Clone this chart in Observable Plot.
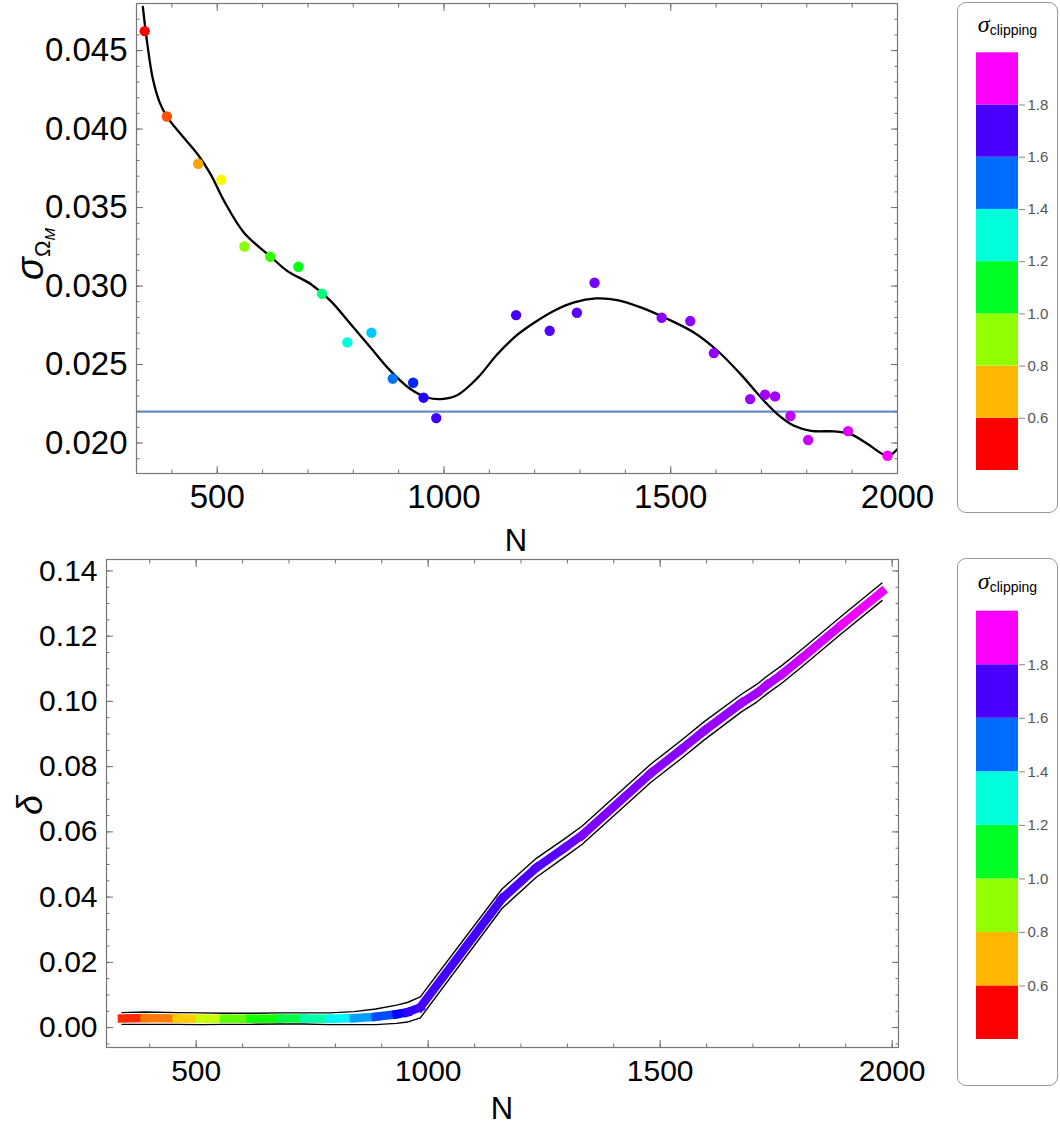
<!DOCTYPE html>
<html><head><meta charset="utf-8">
<script src="https://cdn.jsdelivr.net/npm/d3@7"></script>
<script src="https://cdn.jsdelivr.net/npm/@observablehq/plot@0.6"></script>
<style>
html,body{margin:0;padding:0;background:#fff;}
#page{position:relative;width:1060px;height:1127px;overflow:hidden;font-family:"Liberation Sans",Arial,sans-serif;}
.legbox{position:absolute;border:1px solid #9a9a9a;border-radius:9px;box-sizing:border-box;background:#fff;}
.legtitle{position:absolute;left:0;width:100%;text-align:center;color:#000;}
.legtitle i{font-size:24px;font-family:"Liberation Serif",serif;}
.legtitle sub{font-size:14px;vertical-align:-3px;}
</style></head><body><div id="page"></div>
<script>
// ---------- data ----------
const nValues = [340,389,458,509,560,617,679,731,787,840,887,932,955,983,1159,1233,1293,1332,1480,1543,1595,1675,1708,1730,1764,1803,1891,1978];
const sigmaOmegaM = [0.04624,0.0408,0.03779,0.03677,0.03252,0.03187,0.03123,0.02951,0.02641,0.02703,0.0241,0.02384,0.02289,0.02159,0.02815,0.02715,0.0283,0.03021,0.02798,0.02777,0.02573,0.0228,0.02308,0.02297,0.02172,0.02019,0.02076,0.01919];
const sigmaClipping = [0.5,0.59,0.68,0.77,0.91,1.0,1.08,1.19,1.3,1.4,1.49,1.58,1.66,1.69,1.7,1.71,1.72,1.75,1.77,1.77,1.78,1.79,1.8,1.8,1.83,1.84,1.86,1.9];
const fitN = [336,346,358,373,389,419,456,485,515,559,618,654,706,750,794,838,882,926,963,993,1029,1074,1118,1162,1198,1243,1287,1335,1382,1434,1493,1551,1603,1654,1699,1735,1772,1809,1860,1897,1934,1978,2000];
const fitSigma = [0.04779,0.04540,0.04320,0.04170,0.0408,0.0397,0.03843,0.03715,0.03543,0.0334,0.03187,0.03097,0.03013,0.02906,0.02758,0.02609,0.0246,0.02344,0.0229,0.0228,0.02305,0.02415,0.02567,0.0269,0.02765,0.02843,0.02896,0.02921,0.02911,0.02864,0.0279,0.02704,0.02588,0.02439,0.0229,0.02185,0.0211,0.02078,0.02074,0.02057,0.01994,0.01919,0.01962];
const referenceSigma = 0.022;
const delta = [0.0028,0.0029,0.0028,0.0027,0.0027,0.0027,0.0028,0.0028,0.0027,0.0029,0.0033,0.0041,0.0047,0.0062,0.0395,0.049,0.055,0.059,0.078,0.085,0.091,0.0995,0.1025,0.105,0.1085,0.113,0.1235,0.1336];
const deltaErr = [0.0018,0.0019,0.0018,0.0018,0.0017,0.0017,0.0017,0.0017,0.0018,0.002,0.0024,0.0028,0.003,0.0032,0.003,0.0029,0.0028,0.0028,0.0028,0.0028,0.0028,0.0027,0.0027,0.0027,0.0027,0.0027,0.0027,0.0027];
const legendBreaks = [0.4,0.6,0.8,1.0,1.2,1.4,1.6,1.8,2.0];
const legendTicks = [0.6,0.8,1.0,1.2,1.4,1.6,1.8];
const xTicksMajor = [500,1000,1500,2000];
const xTicksMinor = d3.range(400, 2001, 100);
const topYTicks = [0.020,0.025,0.030,0.035,0.040,0.045];
const topYMinor = d3.range(19, 48).map(d => d / 1000);
const botYTicks = [0.00,0.02,0.04,0.06,0.08,0.10,0.12,0.14];
const botYMinor = d3.range(-1, 29).map(d => d * 0.005);

// ---------- derived tables ----------
const points = nValues.map((n, i) => ({n, s: sigmaOmegaM[i], c: sigmaClipping[i]}));
const fit = fitN.map((n, i) => ({n, s: fitSigma[i]}));
const band = nValues.map((n, i) => ({n, d: delta[i], hi: delta[i] + deltaErr[i], lo: delta[i] - deltaErr[i]}));
const segs = [];
for (let i = 0; i < nValues.length - 1; i++) {
  const c = (sigmaClipping[i] + sigmaClipping[i + 1]) / 2;
  segs.push({seg: i, n: nValues[i], d: delta[i], c});
  segs.push({seg: i, n: nValues[i + 1], d: delta[i + 1], c});
}
const bins = legendBreaks.slice(0, -1).map((lo, i) => ({lo, hi: legendBreaks[i + 1], mid: (lo + legendBreaks[i + 1]) / 2}));

const colorScale = {type: "linear", domain: [0.5, 1.9], clamp: true, interpolate: t => d3.hsl(300 * t, 1, 0.5).formatHex()};
const FONT = "Liberation Sans, Arial, sans-serif";
const tickColor = "#6f6f6f";

function frameTicks(xMaj, xMin, yMaj, yMin) {
  const o = {fill: "none", stroke: tickColor, label: null};
  return [
    Plot.axisX(xMin, {...o, anchor: "bottom", tickSize: -3.5}),
    Plot.axisX(xMaj, {...o, anchor: "bottom", tickSize: -7}),
    Plot.axisX(xMin, {...o, anchor: "top", tickSize: -3.5}),
    Plot.axisX(xMaj, {...o, anchor: "top", tickSize: -7}),
    Plot.axisY(yMin, {...o, anchor: "left", tickSize: -3.5}),
    Plot.axisY(yMaj, {...o, anchor: "left", tickSize: -7}),
    Plot.axisY(yMin, {...o, anchor: "right", tickSize: -3.5}),
    Plot.axisY(yMaj, {...o, anchor: "right", tickSize: -7})
  ];
}

const page = document.getElementById("page");

// ---------- top chart ----------
const topPlot = Plot.plot({
  width: 957, height: 562,
  marginLeft: 136, marginRight: 60, marginTop: 3, marginBottom: 89,
  style: {fontFamily: FONT, fontSize: "33px", color: "#000", background: "transparent"},
  x: {domain: [322, 2000]},
  y: {domain: [0.01806, 0.0480]},
  color: colorScale,
  marks: [
    Plot.ruleY([referenceSigma], {stroke: "#6a8bc6", strokeWidth: 2.2}),
    Plot.line(fit, {x: "n", y: "s", curve: "catmull-rom", stroke: "#000", strokeWidth: 2.3, clip: true}),
    Plot.dot(points, {x: "n", y: "s", fill: "c", r: 5.2}),
    ...frameTicks(xTicksMajor, xTicksMinor, topYTicks, topYMinor),
    Plot.axisX(xTicksMajor, {anchor: "bottom", tickSize: 0, tickPadding: 11, label: null, tickFormat: d => String(d)}),
    Plot.axisY(topYTicks, {anchor: "left", tickSize: 0, tickPadding: 9, label: null, tickFormat: d3.format(".3f")}),
    Plot.frame({stroke: "#777", strokeWidth: 1.2})
  ]
});
topPlot.style.position = "absolute"; topPlot.style.left = "0px"; topPlot.style.top = "0px";
page.appendChild(topPlot);
{
  const svg = d3.select(topPlot);
  svg.append("text").attr("x", 516).attr("y", 551).attr("text-anchor", "middle")
    .attr("font-size", 31).attr("font-family", FONT).attr("fill", "#000").text("N");
  const t = svg.append("text").attr("transform", "translate(43,254) rotate(-90)")
    .attr("font-family", FONT).attr("fill", "#000");
  t.append("tspan").attr("font-size", 38).attr("font-style", "italic").text("σ");
  t.append("tspan").attr("font-size", 22).attr("dy", 7).text("Ω");
  t.append("tspan").attr("font-size", 15).attr("font-style", "italic").attr("dy", 5).text("M");
}

// ---------- bottom chart ----------
const botPlot = Plot.plot({
  width: 957, height: 572,
  marginLeft: 106, marginRight: 59, marginTop: 4, marginBottom: 80,
  style: {fontFamily: FONT, fontSize: "30px", color: "#000", background: "transparent"},
  x: {domain: [306.7, 2013.6]},
  y: {domain: [-0.0061, 0.1435]},
  color: colorScale,
  marks: [
    Plot.line(band, {x: "n", y: "hi", stroke: "#000", strokeWidth: 1.4}),
    Plot.line(band, {x: "n", y: "lo", stroke: "#000", strokeWidth: 1.4}),
    Plot.line(segs, {x: "n", y: "d", z: "seg", stroke: "c", strokeWidth: 8.5, strokeLinecap: "square"}),
    ...frameTicks(xTicksMajor, xTicksMinor, botYTicks, botYMinor),
    Plot.axisX(xTicksMajor, {anchor: "bottom", tickSize: 0, tickPadding: 12, label: null, tickFormat: d => String(d)}),
    Plot.axisY(botYTicks, {anchor: "left", tickSize: 0, tickPadding: 9, label: null, tickFormat: d3.format(".2f")}),
    Plot.frame({stroke: "#777", strokeWidth: 1.2})
  ]
});
botPlot.style.position = "absolute"; botPlot.style.left = "0px"; botPlot.style.top = "555px";
page.appendChild(botPlot);
{
  const svg = d3.select(botPlot);
  svg.append("text").attr("x", 502).attr("y", 564).attr("text-anchor", "middle")
    .attr("font-size", 31).attr("font-family", FONT).attr("fill", "#000").text("N");
  svg.append("text").attr("transform", "translate(42,250) rotate(-90)").attr("text-anchor", "middle")
    .attr("font-size", 36).attr("font-style", "italic").attr("font-family", FONT).attr("fill", "#000").text("δ");
}

// ---------- legends ----------
function addLegend(top, height, mTop, mBottom, titleTop) {
  const box = document.createElement("div");
  box.className = "legbox";
  Object.assign(box.style, {left: "957px", top: top + "px", width: "101px", height: height + "px"});
  page.appendChild(box);
  const title = document.createElement("div");
  title.className = "legtitle";
  title.style.top = titleTop + "px";
  title.innerHTML = "<i>σ</i><sub>clipping</sub>";
  box.appendChild(title);
  const leg = Plot.plot({
    width: 101, height,
    marginLeft: 19, marginRight: 40, marginTop: mTop, marginBottom: mBottom,
    style: {fontFamily: FONT, fontSize: "15px", color: "#555", background: "transparent"},
    y: {domain: [0.4, 2.0]},
    color: colorScale,
    marks: [
      Plot.barY(bins, {y1: "lo", y2: "hi", fill: "mid"}),
      Plot.axisY(legendTicks, {anchor: "right", tickSize: 6, tickPadding: 3, stroke: "#888", label: null, tickFormat: d3.format(".1f")})
    ]
  });
  leg.style.position = "absolute"; leg.style.left = "957px"; leg.style.top = top + "px";
  page.appendChild(leg);
}
addLegend(2, 511, 50.3, 43, 8);
addLegend(558, 528, 52.7, 47, 9);
</script>
</body></html>
